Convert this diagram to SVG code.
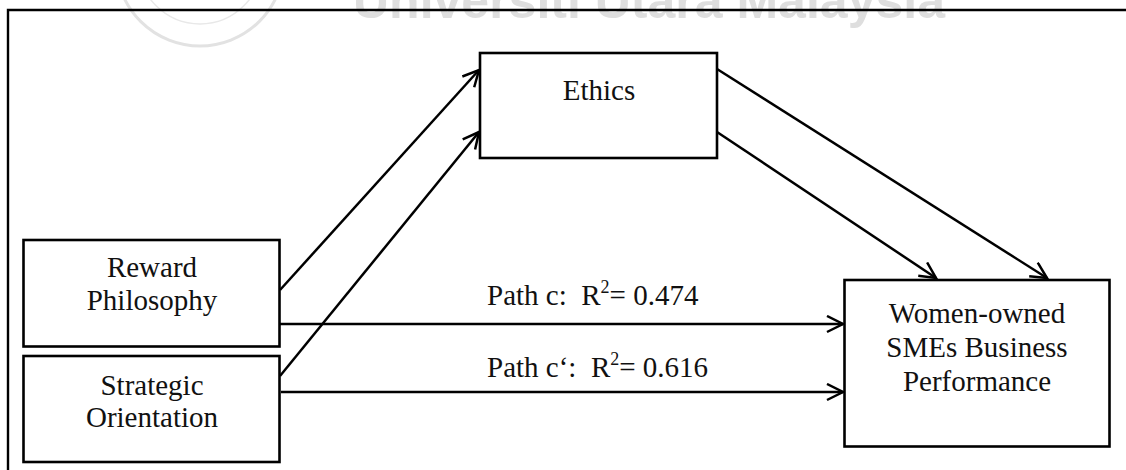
<svg xmlns="http://www.w3.org/2000/svg" width="1126" height="470" viewBox="0 0 1126 470">
<style>
.box{fill:#fff;stroke:#000;stroke-width:2.6}
.lbl{font-family:"Liberation Serif","Times New Roman",serif;font-size:29px;fill:#111;text-anchor:middle}
.plbl{font-family:"Liberation Serif","Times New Roman",serif;font-size:29px;fill:#111}
.con{stroke:#000;stroke-width:2.5;fill:none;marker-end:url(#arr)}
.wm{font-family:"Liberation Sans",Arial,sans-serif;font-weight:bold;font-size:50px;fill:#dedede}
</style>
<defs>
<marker id="arr" markerUnits="userSpaceOnUse" markerWidth="20" markerHeight="20" refX="17" refY="9" orient="auto">
<path d="M1,1 L17,9 L1,17" fill="none" stroke="#000" stroke-width="2.5"/>
</marker>
</defs>
<rect width="1126" height="470" fill="#fff"/>
<g id="watermark">
<circle cx="200" cy="-38" r="84" fill="none" stroke="#e2e2e2" stroke-width="3"/>
<circle cx="200" cy="-38" r="62" fill="none" stroke="#e8e8e8" stroke-width="1.5"/>
<text class="wm" x="353" y="18">Universiti Utara Malaysia</text>
</g>
<g id="frame">
<path d="M8,470 L8,10 L1126,10" fill="none" stroke="#000" stroke-width="2.4"/>
</g>
<g id="connectors">
<line class="con" x1="280" y1="290" x2="479" y2="70"/>
<line class="con" x1="280" y1="376" x2="479" y2="132"/>
<line class="con" x1="717" y1="69" x2="1047" y2="278"/>
<line class="con" x1="717" y1="132" x2="936" y2="278"/>
<line class="con" x1="280" y1="324" x2="843" y2="324"/>
<line class="con" x1="281" y1="392" x2="843" y2="392"/>
</g>
<g id="ethics">
<rect class="box" x="480" y="53" width="237" height="105"/>
<text class="lbl" x="599" y="100">Ethics</text>
</g>
<g id="reward">
<rect class="box" x="23.5" y="240" width="256" height="106.5"/>
<text class="lbl" x="152" y="277">Reward</text>
<text class="lbl" x="152" y="310">Philosophy</text>
</g>
<g id="strategic">
<rect class="box" x="23.5" y="356" width="256" height="106"/>
<text class="lbl" x="152" y="395">Strategic</text>
<text class="lbl" x="152" y="427">Orientation</text>
</g>
<g id="performance">
<rect class="box" x="844.5" y="280" width="265" height="166.5"/>
<text class="lbl" x="977" y="323">Women-owned</text>
<text class="lbl" x="977" y="357">SMEs Business</text>
<text class="lbl" x="977" y="391">Performance</text>
</g>
<g id="path-labels">
<text class="plbl" x="487" y="305" xml:space="preserve">Path c:  R<tspan font-size="18" dy="-12">2</tspan><tspan dy="12">= 0.474</tspan></text>
<text class="plbl" x="487" y="377" xml:space="preserve">Path c‘:  R<tspan font-size="18" dy="-12">2</tspan><tspan dy="12">= 0.616</tspan></text>
</g>
</svg>
